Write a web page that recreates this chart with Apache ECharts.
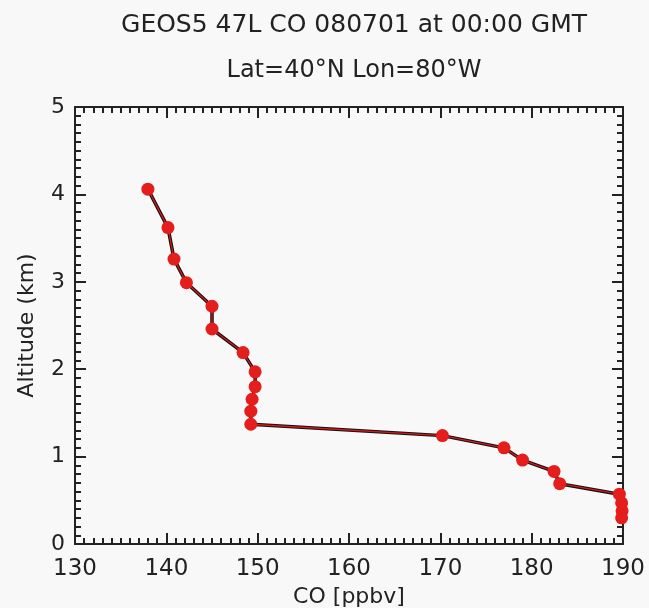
<!DOCTYPE html>
<html>
<head>
<meta charset="utf-8">
<script src="https://cdn.jsdelivr.net/npm/echarts@6/dist/echarts.min.js"></script>
<style>
html,body{margin:0;padding:0;background:#f8f8f8;}
#c{width:649px;height:608px;}
</style>
</head>
<body>
<div id="c"></div>
<script>
var titleLine1 = 'GEOS5 47L CO 080701 at 00:00 GMT';
var titleLine2 = 'Lat=40°N Lon=80°W';
var xName = 'CO [ppbv]';
var yName = 'Altitude (km)';
var xMin = 130, xMax = 190, xStep = 10;
var yMin = 0, yMax = 5, yStep = 1;

var coValues = [137.98, 140.18, 140.84, 142.2, 145.0, 145.0, 148.4, 149.72, 149.72, 149.39, 149.25, 149.25,
                170.23, 176.97, 179.0, 182.45, 183.07, 189.6, 189.85, 189.9, 189.85];
var altValues = [4.06, 3.62, 3.26, 2.99, 2.72, 2.46, 2.19, 1.97, 1.80, 1.656, 1.52, 1.37,
                 1.24, 1.10, 0.96, 0.83, 0.69, 0.57, 0.47, 0.38, 0.30];

var pts = coValues.map(function (v, i) { return [v, altValues[i]]; });

var font = 'DejaVu Sans';
var axisColor = '#222';
function baseX(pos, show) {
  return {
    type: 'value', position: pos, min: xMin, max: xMax, interval: xStep,
    axisLine: { show: true, onZero: false, lineStyle: { color: axisColor, width: 2 } },
    axisTick: { show: true, inside: true, length: 11, lineStyle: { color: axisColor, width: 2 } },
    minorTick: { show: true, splitNumber: 10, length: 6, lineStyle: { color: axisColor, width: 2 } },
    axisLabel: { show: show, color: '#222', fontFamily: font, fontSize: 23, margin: 14 },
    splitLine: { show: false }
  };
}
function baseY(pos, show) {
  return {
    type: 'value', position: pos, min: yMin, max: yMax, interval: yStep,
    axisLine: { show: true, onZero: false, lineStyle: { color: axisColor, width: 2 } },
    axisTick: { show: true, inside: true, length: 11, lineStyle: { color: axisColor, width: 2 } },
    minorTick: { show: true, splitNumber: 10, length: 6, lineStyle: { color: axisColor, width: 2 } },
    axisLabel: { show: show, color: '#222', fontFamily: font, fontSize: 22, margin: 10 },
    splitLine: { show: false }
  };
}
var x0 = baseX('bottom', true);
x0.name = xName; x0.nameLocation = 'middle'; x0.nameGap = 40;
x0.nameTextStyle = { color: '#222', fontFamily: font, fontSize: 22 };
var x1 = baseX('top', false);
var y0 = baseY('left', true);
y0.name = yName; y0.nameLocation = 'middle'; y0.nameGap = 37;
y0.nameTextStyle = { color: '#222', fontFamily: font, fontSize: 22 };
var y1 = baseY('right', false);

var chart = echarts.init(document.getElementById('c'), null, { renderer: 'canvas' });
chart.setOption({
  backgroundColor: '#f8f8f8',
  animation: false,
  title: [
    { text: titleLine1, left: 349, top: 8, textAlign: 'center',
      textStyle: { color: '#222', fontFamily: font, fontSize: 25, fontWeight: 'normal' } },
    { text: titleLine2, left: 349, top: 54, textAlign: 'center',
      textStyle: { color: '#222', fontFamily: font, fontSize: 24, fontWeight: 'normal' } }
  ],
  grid: { left: 75, right: 26, top: 107, bottom: 64, containLabel: false, outerBoundsMode: 'none' },
  xAxis: [x0, x1],
  yAxis: [y0, y1],
  series: [
    { type: 'line', data: pts, xAxisIndex: 0, yAxisIndex: 0, showSymbol: false, symbol: 'none',
      lineStyle: { color: '#111', width: 3.5 }, z: 2 },
    { type: 'line', data: pts, xAxisIndex: 0, yAxisIndex: 0, symbol: 'circle', symbolSize: 13,
      itemStyle: { color: '#e41d1d' }, lineStyle: { color: '#d81818', width: 1.3 }, z: 3 }
  ]
});
</script>
</body>
</html>
